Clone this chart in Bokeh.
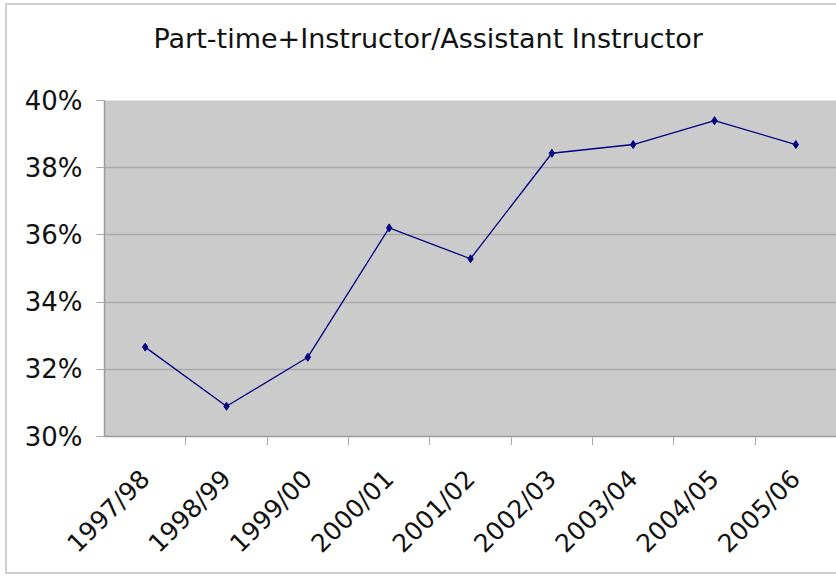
import math
from bokeh.plotting import figure
from bokeh.models import (FactorRange, Range1d, LinearAxis, CategoricalAxis, FixedTicker,
                          PrintfTickFormatter, ColumnDataSource, Title)
from bokeh.embed import file_html
from bokeh.resources import INLINE

# ---- data ----
years = ["1997/98", "1998/99", "1999/00", "2000/01", "2001/02",
         "2002/03", "2003/04", "2004/05", "2005/06"]
share_pct = [32.66, 30.90, 32.36, 36.21, 35.29, 38.43, 38.69, 39.40, 38.69]
y_ticks = [30, 32, 34, 36, 38, 40]
title_text = "Part-time+Instructor/Assistant Instructor"

FONT = "DejaVu Sans"
GRID = "#a9a9a9"
FRAME_BORDER = "#cfcfcf"

src = ColumnDataSource(dict(year=years, share=share_pct))

p = figure(width=836, height=576, title=None,
           x_range=FactorRange(*years, range_padding=0),
           y_range=Range1d(y_ticks[0], y_ticks[-1]),
           output_backend="svg", toolbar_location=None,
           x_axis_location=None, y_axis_location=None,
           min_border_left=104, min_border_top=100, min_border_bottom=140, min_border_right=0)

p.background_fill_color = "#cbcbcb"
p.border_fill_color = None
p.outline_line_color = None
# outer chart border (left, top, bottom) drawn behind the transparent canvas
p.styles = {
    "background-color": "white",
    "background-image": (f"linear-gradient({FRAME_BORDER},{FRAME_BORDER}),"
                         f"linear-gradient({FRAME_BORDER},{FRAME_BORDER}),"
                         f"linear-gradient({FRAME_BORDER},{FRAME_BORDER})"),
    "background-size": "2px 571px, 900px 2px, 900px 2px",
    "background-position": "5px 3px, 5px 3px, 5px 572px",
    "background-repeat": "no-repeat",
}

# spacer between plot area and title (closest to the frame), then the title
p.add_layout(Title(text=" ", text_font_size="1px", standoff=42), "above")
p.add_layout(Title(text=title_text, text_font=FONT, text_font_size="27px",
                   text_font_style="normal", text_color="#111111",
                   align="left", vertical_align="top", offset=49, standoff=0), "above")

# y axis
yaxis = LinearAxis(ticker=FixedTicker(ticks=y_ticks),
                   formatter=PrintfTickFormatter(format="%d%%"),
                   major_label_text_font=FONT, major_label_text_font_size="26px",
                   major_label_text_color="#111111",
                   major_tick_in=0, major_tick_out=8, minor_tick_in=0, minor_tick_out=0,
                   major_tick_line_color=GRID, axis_line_color="#9a9a9a",
                   axis_line_width=1.5, major_label_standoff=14)
p.add_layout(yaxis, "left")

# x separators (ticks between categories): a shifted factor range of boundaries
bounds = [f"b{i}" for i in range(len(years) + 1)]
p.extra_x_ranges = {"sep": FactorRange(*bounds, range_padding=-0.5,
                                       range_padding_units="absolute")}
sep_axis = CategoricalAxis(x_range_name="sep",
                           major_label_overrides={b: "" for b in bounds},
                           major_label_text_font_size="1px", major_label_standoff=0,
                           major_tick_in=0, major_tick_out=8,
                           major_tick_line_color=GRID, axis_line_color="#9a9a9a",
                           axis_line_width=1.5)
p.add_layout(sep_axis, "below")

cat_axis = CategoricalAxis(major_tick_line_color=None, axis_line_color=None,
                           major_label_orientation=math.pi / 4,
                           major_label_text_font=FONT, major_label_text_font_size="25px",
                           major_label_text_color="#111111", major_label_standoff=20)
p.add_layout(cat_axis, "below")

p.xgrid.visible = False
p.ygrid.ticker = FixedTicker(ticks=y_ticks)
p.ygrid.grid_line_color = GRID
p.ygrid.grid_line_width = 1.5

p.line("year", "share", source=src, line_color="#000080", line_width=1.3)
p.scatter("year", "share", source=src, marker="diamond", size=8,
          fill_color="#000080", line_color="#000080")

open("out.html", "w").write(file_html(p, INLINE))
